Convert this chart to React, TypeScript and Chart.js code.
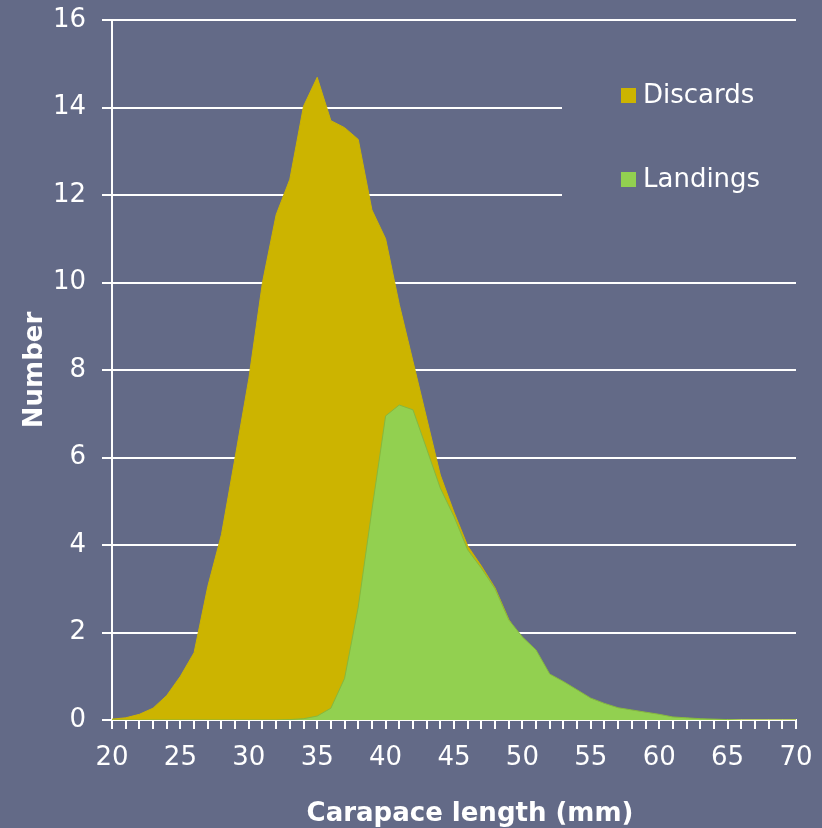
import { useEffect, useRef } from 'react';
import { Chart, registerables } from 'chart.js';

Chart.register(...registerables);

// Carapace length (mm)
const lengths = [
  20, 21, 22, 23, 24, 25, 26, 27, 28, 29,
  30, 31, 32, 33, 34, 35, 36, 37, 38, 39,
  40, 41, 42, 43, 44, 45, 46, 47, 48, 49,
  50, 51, 52, 53, 54, 55, 56, 57, 58, 59,
  60, 61, 62, 63, 64, 65, 66, 67, 68, 69, 70,
];

const discards = [
  0.02, 0.05, 0.13, 0.27, 0.56, 1.0, 1.54, 3.05, 4.24, 6.0,
  7.8, 10.0, 11.55, 12.36, 14.03, 14.69, 13.7, 13.54, 13.27, 11.66,
  11.0, 9.5, 8.2, 6.9, 5.6, 4.75, 3.98, 3.52, 3.02, 2.3,
  1.8, 1.4, 0.9, 0.7, 0.5, 0.35, 0.25, 0.18, 0.12, 0.08,
  0.05, 0.03, 0.02, 0.01, 0, 0, 0, 0, 0, 0, 0,
];

const landings = [
  0, 0, 0, 0, 0, 0, 0, 0, 0, 0,
  0, 0, 0, 0.01, 0.03, 0.09, 0.27, 0.95, 2.58, 4.8,
  6.95, 7.2, 7.09, 6.2, 5.3, 4.65, 3.89, 3.47, 3.0, 2.29,
  1.9, 1.6, 1.05, 0.88, 0.69, 0.5, 0.38, 0.28, 0.23, 0.18,
  0.13, 0.07, 0.05, 0.03, 0.02, 0.01, 0, 0, 0, 0, 0,
];

const seriesNames = ['Discards', 'Landings'];
const xTitle = 'Carapace length (mm)';
const yTitle = 'Number';
const xMin = 20;
const xMax = 70;
const xLabelStep = 5;
const yMin = 0;
const yMax = 16;
const yStep = 2;

const BG = '#636a87';
const DISCARD_COLOR = '#ccb400';
const LANDING_COLOR = '#92d050';
const FONT = "'DejaVu Sans', Verdana, sans-serif";

export default function App() {
  const ref = useRef<HTMLCanvasElement>(null);

  useEffect(() => {
    if (!ref.current) return;

    const overlayPlugin = {
      id: 'overlay',
      afterDraw(chart: any) {
        const ctx = chart.ctx as CanvasRenderingContext2D;
        const a = chart.chartArea;
        ctx.save();
        // legend box (masks gridlines behind it)
        ctx.fillStyle = BG;
        ctx.fillRect(562, 40, a.right - 562 + 4, 220);
        const items = [
          { name: seriesNames[0], color: DISCARD_COLOR, y: 88 },
          { name: seriesNames[1], color: LANDING_COLOR, y: 172 },
        ];
        ctx.font = `26px ${FONT}`;
        ctx.textBaseline = 'alphabetic';
        ctx.textAlign = 'left';
        for (const it of items) {
          ctx.fillStyle = it.color;
          ctx.fillRect(621, it.y, 15, 15);
          ctx.fillStyle = '#ffffff';
          ctx.fillText(it.name, 643, it.y + 15);
        }
        // axis titles
        ctx.font = `bold 26px ${FONT}`;
        ctx.fillStyle = '#ffffff';
        ctx.textAlign = 'center';
        ctx.fillText(xTitle, 470, 821);
        ctx.translate(42, (a.top + a.bottom) / 2);
        ctx.rotate(-Math.PI / 2);
        ctx.fillText(yTitle, 0, 0);
        ctx.restore();
      },
    };

    const noPad = (s: any) => {
      s.paddingTop = 0;
      s.paddingBottom = 0;
      s.paddingLeft = 0;
      s.paddingRight = 0;
    };

    const chart = new Chart(ref.current, {
      type: 'line',
      data: {
        datasets: [
          {
            label: seriesNames[0],
            data: lengths.map((x, i) => ({ x, y: discards[i] })),
            backgroundColor: DISCARD_COLOR,
            borderColor: DISCARD_COLOR,
            borderWidth: 1,
            fill: 'origin',
            pointRadius: 0,
            tension: 0,
            order: 2,
          },
          {
            label: seriesNames[1],
            data: lengths.map((x, i) => ({ x, y: landings[i] })),
            backgroundColor: LANDING_COLOR,
            borderColor: '#86b83e',
            borderWidth: 1,
            fill: 'origin',
            pointRadius: 0,
            tension: 0,
            order: 1,
          },
        ],
      },
      options: {
        responsive: false,
        animation: false,
        events: [],
        layout: { padding: { left: 0, top: 20, right: 26, bottom: 0 } },
        plugins: {
          legend: { display: false },
          tooltip: { enabled: false },
        },
        scales: {
          x: {
            type: 'linear',
            min: xMin,
            max: xMax,
            afterFit: (s: any) => {
              s.height = 108;
              noPad(s);
            },
            border: { display: true, color: '#ffffff', width: 2 },
            grid: {
              drawOnChartArea: false,
              drawTicks: true,
              tickLength: 9,
              color: '#ffffff',
              lineWidth: 2,
            },
            ticks: {
              stepSize: 1,
              maxTicksLimit: 100,
              autoSkip: false,
              maxRotation: 0,
              minRotation: 0,
              padding: 14,
              color: '#ffffff',
              font: { family: FONT, size: 26 },
              callback: (v: any) => (Number(v) % xLabelStep === 0 ? String(v) : ''),
            },
          },
          y: {
            min: yMin,
            max: yMax,
            afterFit: (s: any) => {
              s.width = 112;
              noPad(s);
            },
            border: { display: true, color: '#ffffff', width: 2 },
            grid: {
              drawTicks: true,
              tickLength: 10,
              color: '#ffffff',
              lineWidth: 2,
            },
            ticks: {
              stepSize: yStep,
              padding: 16,
              color: '#ffffff',
              font: { family: FONT, size: 26 },
            },
          },
        },
      },
      plugins: [overlayPlugin],
    });

    return () => chart.destroy();
  }, []);

  return (
    <div
      style={{
        position: 'fixed',
        left: 0,
        top: 0,
        width: 822,
        height: 828,
        background: BG,
      }}
    >
      <canvas ref={ref} width={822} height={828} style={{ display: 'block' }} />
    </div>
  );
}
